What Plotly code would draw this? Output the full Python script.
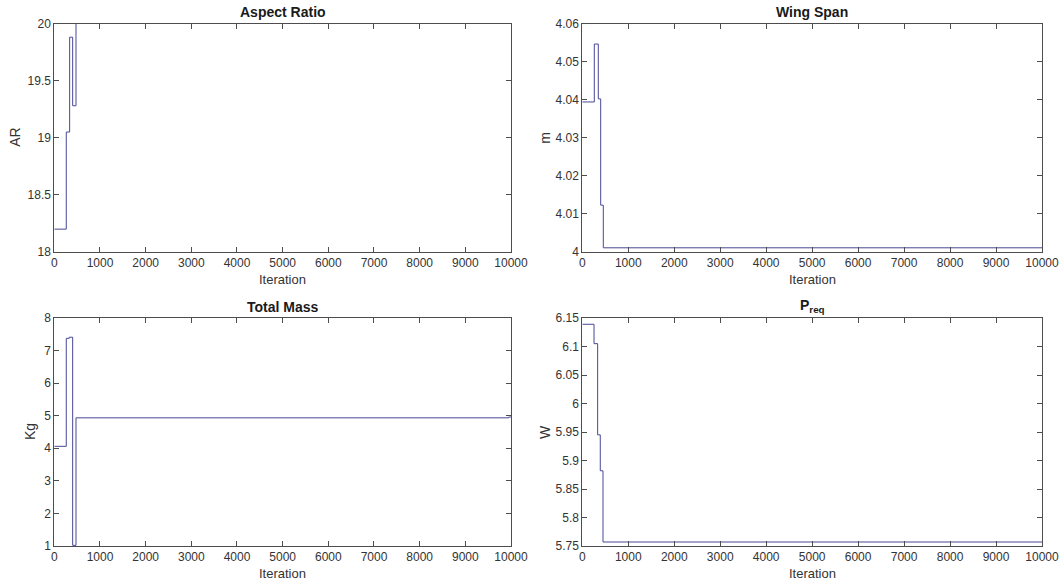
import plotly.graph_objects as go

# ---- data ----
iter_ar = [0, 262, 336, 402, 475, 10000]
ar_vals = [18.2, 19.05, 19.88, 19.28, 20.0, 20.0]

iter_span = [0, 261, 348, 400, 457, 10000]
span_vals = [4.0394, 4.0546, 4.0402, 4.0123, 4.0011, 4.0011]

iter_mass = [0, 262, 328, 402, 475, 9950, 10000]
mass_vals = [4.06, 7.375, 7.41, 1.02, 4.935, 4.96, 4.96]

iter_p = [0, 255, 334, 391, 450, 10000]
p_vals = [6.139, 6.105, 5.945, 5.882, 5.757, 5.757]

x_ticks = list(range(0, 10001, 1000))
x_ticklabels = [str(v) for v in x_ticks]
ar_ticks = [18, 18.5, 19, 19.5, 20]
ar_ticklabels = ["18", "18.5", "19", "19.5", "20"]
span_ticks = [4, 4.01, 4.02, 4.03, 4.04, 4.05, 4.06]
span_ticklabels = ["4", "4.01", "4.02", "4.03", "4.04", "4.05", "4.06"]
mass_ticks = [1, 2, 3, 4, 5, 6, 7, 8]
mass_ticklabels = ["1", "2", "3", "4", "5", "6", "7", "8"]
p_ticks = [5.75, 5.8, 5.85, 5.9, 5.95, 6, 6.05, 6.1, 6.15]
p_ticklabels = ["5.75", "5.8", "5.85", "5.9", "5.95", "6", "6.05", "6.1", "6.15"]

titles = ["Aspect Ratio", "Wing Span", "Total Mass", "P<sub>req</sub>"]
ylabels = ["AR", "m", "Kg", "W"]

W, H = 1061, 585
LINE = "rgb(72,72,150)"
AX = "#4d4d4d"
FONT = "Liberation Sans, Arial, sans-serif"

fig = go.Figure()

panels = [
    (iter_ar, ar_vals, ar_ticks, ar_ticklabels, [18, 20], (54.3, 511), (23.5, 252)),
    (iter_span, span_vals, span_ticks, span_ticklabels, [4, 4.06], (582.3, 1042), (23.5, 252)),
    (iter_mass, mass_vals, mass_ticks, mass_ticklabels, [1, 8], (54.3, 511), (318, 546)),
    (iter_p, p_vals, p_ticks, p_ticklabels, [5.75, 6.15], (582.3, 1042), (318, 546)),
]

ylab_x = [15, 545, 30, 545]


def px(x):
    return x / W


def py(y):
    return 1 - y / H


for i, (xs, ys, yt, ytl, yr, (x0, x1), (y0, y1)) in enumerate(panels):
    n = i + 1
    xa = "x" if n == 1 else f"x{n}"
    ya = "y" if n == 1 else f"y{n}"
    fig.add_trace(go.Scatter(x=xs, y=ys, mode="lines", line=dict(color=LINE, width=1, shape="hv"),
                             xaxis=xa, yaxis=ya, showlegend=False, hoverinfo="x+y"))
    xkey = "xaxis" if n == 1 else f"xaxis{n}"
    ykey = "yaxis" if n == 1 else f"yaxis{n}"
    common = dict(showline=True, linecolor=AX, linewidth=1, mirror="ticks", ticks="inside",
                  ticklen=5, tickcolor=AX, showgrid=False, zeroline=False, automargin=False,
                  tickfont=dict(family=FONT, size=12, color="#333333"))
    fig.layout[xkey] = dict(domain=[px(x0), px(x1)], range=[0, 10000], tickvals=x_ticks,
                            ticktext=x_ticklabels, anchor=ya, **common)
    fig.layout[ykey] = dict(domain=[py(y1), py(y0)], range=yr, tickvals=yt,
                            ticktext=ytl, anchor=xa, **common)

    cx = px((x0 + x1) / 2)
    # title
    fig.add_annotation(x=cx, y=py(y0 - 1.5), xref="paper", yref="paper", text=f"<b>{titles[i]}</b>",
                       showarrow=False, xanchor="center", yanchor="bottom",
                       font=dict(family=FONT, size=14, color="#1a1a1a"))
    # x label
    fig.add_annotation(x=cx, y=py(y1 + 18), xref="paper", yref="paper", text="Iteration",
                       showarrow=False, xanchor="center", yanchor="top",
                       font=dict(family=FONT, size=13, color="#333333"))
    # y label
    fig.add_annotation(x=px(ylab_x[i]), y=py((y0 + y1) / 2), xref="paper", yref="paper",
                       text=ylabels[i], textangle=-90, showarrow=False, xanchor="center",
                       yanchor="middle", font=dict(family=FONT, size=14, color="#333333"))

fig.update_layout(width=W, height=H, margin=dict(l=0, r=0, t=0, b=0),
                  paper_bgcolor="white", plot_bgcolor="white")

fig.write_html("out.html", config={"displayModeBar": False},
               post_script="document.body.style.margin='0px';document.body.style.overflow='hidden';")
